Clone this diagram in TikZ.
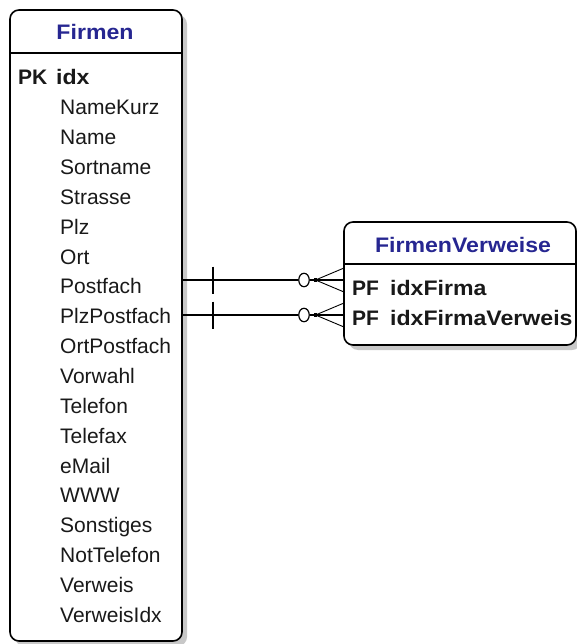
\documentclass[tikz,border=0pt]{standalone}
\usepackage{fontspec}
\setmainfont{Liberation Sans}
\newfontfamily\wideface[FakeStretch=1.1]{Liberation Sans}
\usetikzlibrary{shapes.geometric,shadows}

\definecolor{titleblue}{RGB}{38,38,145}
\definecolor{fieldtext}{RGB}{25,25,25}
\definecolor{shadowgray}{RGB}{200,200,200}

\tikzset{
  entity/.style={draw=black, line width=1.6pt, fill=white, rounded corners=9pt,
    inner sep=0pt, outer sep=0pt, anchor=north west,
    drop shadow={shadow xshift=5pt, shadow yshift=-5pt, fill=shadowgray, opacity=1}},
  headline/.style={draw=black, line width=1.4pt},
  title/.style={text=titleblue, font=\fontsize{21}{21}\wideface\bfseries,
    inner sep=0pt, anchor=base},
  field/.style={text=fieldtext, font=\fontsize{21}{21}\selectfont,
    inner sep=0pt, anchor=base west},
  keytag/.style={text=fieldtext, font=\fontsize{21}{21}\selectfont\bfseries,
    inner sep=0pt, anchor=base west},
  keyfield/.style={text=fieldtext, font=\fontsize{21}{21}\wideface\bfseries,
    inner sep=0pt, anchor=base west},
  conn/.style={draw=black, line width=1.4pt},
  foot/.style={draw=black, line width=0.9pt},
  zeromark/.style={ellipse, draw=black, line width=1.2pt, fill=white,
    minimum width=10.5pt, minimum height=13.5pt, inner sep=0pt},
  dotmark/.style={rectangle, fill=black, minimum size=3.5pt, inner sep=0pt}
}

\begin{document}
\begin{tikzpicture}[x=1pt, y=-1pt]
  \useasboundingbox (0,0) rectangle (577,644);

  % --- table Firmen ---
  \node[entity, minimum width=172pt, minimum height=631pt] (firmen) at (10,10) {};
  \coordinate (fsep) at (0,53);
  \draw[headline] (firmen.west |- fsep) -- (firmen.east |- fsep);
  \node[title] (firmentitle) at (95,40) {Firmen};
  \node[keytag] (pk) at (18,85) {PK};
  \node[keyfield] (idx) at (56,85) {idx};
  \foreach \fname [count=\i from 1] in {NameKurz, Name, Sortname, Strasse, Plz,
      Ort, Postfach, PlzPostfach, OrtPostfach, Vorwahl, Telefon, Telefax, eMail,
      WWW, Sonstiges, NotTelefon, Verweis, VerweisIdx}
    \node[field] (fld\i) at (60,{85+29.85*\i}) {\fname};

  % --- table FirmenVerweise ---
  \node[entity, minimum width=232pt, minimum height=123pt] (verweise) at (344,222) {};
  \coordinate (vsep) at (0,264);
  \draw[headline] (verweise.west |- vsep) -- (verweise.east |- vsep);
  \node[title] (verweisetitle) at (463,252) {FirmenVerweise};
  \node[keytag] (pf1) at (352,295) {PF};
  \node[keyfield] (idxfirma) at (390,295) {idxFirma};
  \node[keytag] (pf2) at (352,325) {PF};
  \node[keyfield] (idxverweis) at (390,325) {idxFirmaVerweis};

  % --- relationships: exactly one (Firmen) to zero or many (FirmenVerweise) ---
  \foreach \k/\ry in {1/280, 2/315} {
    \coordinate (from\k) at (firmen.east |- 0,\ry);
    \coordinate (to\k) at (verweise.west |- 0,\ry);
    \coordinate (bar\k) at (213,\ry);
    \node[zeromark] (zero\k) at (304,\ry) {};
    \node[dotmark] (dot\k) at (315.5,\ry) {};
    \draw[conn] (from\k) -- (zero\k.west);
    \draw[conn] (zero\k.east) -- (to\k);
    \draw[conn] (bar\k) ++(0,-13.5) -- ++(0,27);
    \draw[foot] (dot\k.center) -- ([yshift=12pt]to\k);
    \draw[foot] (dot\k.center) -- ([yshift=-12pt]to\k);
  }
\end{tikzpicture}
\end{document}
